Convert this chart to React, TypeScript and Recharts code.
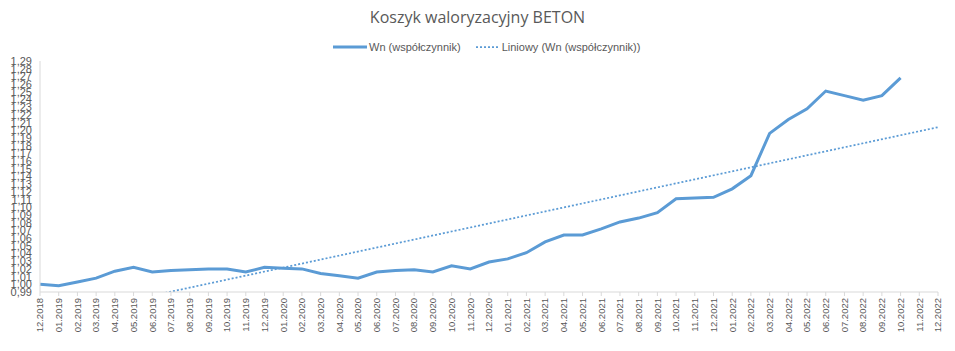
import { LineChart, Line, XAxis, YAxis } from 'recharts'

const MONTHS = [
  '12.2018',
  '01.2019', '02.2019', '03.2019', '04.2019', '05.2019', '06.2019', '07.2019', '08.2019', '09.2019', '10.2019', '11.2019', '12.2019',
  '01.2020', '02.2020', '03.2020', '04.2020', '05.2020', '06.2020', '07.2020', '08.2020', '09.2020', '10.2020', '11.2020', '12.2020',
  '01.2021', '02.2021', '03.2021', '04.2021', '05.2021', '06.2021', '07.2021', '08.2021', '09.2021', '10.2021', '11.2021', '12.2021',
  '01.2022', '02.2022', '03.2022', '04.2022', '05.2022', '06.2022', '07.2022', '08.2022', '09.2022', '10.2022', '11.2022', '12.2022',
]

// Wn (współczynnik), 12.2018 – 10.2022
const WN = [
  1.000, 0.998, 1.003, 1.008, 1.017, 1.022, 1.016, 1.018, 1.019, 1.020, 1.020, 1.016,
  1.022, 1.021, 1.020, 1.014, 1.011, 1.008, 1.016, 1.018, 1.019, 1.016, 1.024, 1.020,
  1.029, 1.033, 1.041, 1.055, 1.064, 1.064, 1.072, 1.081, 1.086, 1.093, 1.111, 1.112,
  1.113, 1.124, 1.141, 1.196, 1.214, 1.228, 1.251, 1.245, 1.239, 1.245, 1.268,
]

// linear trend read at first and last month of the axis
const TREND = [0.954, 1.204]

const Y_TICKS = [
  0.99, 1.0, 1.01, 1.02, 1.03, 1.04, 1.05, 1.06, 1.07, 1.08, 1.09, 1.1, 1.11, 1.12, 1.13, 1.14,
  1.15, 1.16, 1.17, 1.18, 1.19, 1.2, 1.21, 1.22, 1.23, 1.24, 1.25, 1.26, 1.27, 1.28, 1.29,
]

const BLUE = '#5b9bd5'
const TEXT = '#595959'
const AXIS = '#d9d9d9'
const FONT = '"Liberation Sans", Arial, sans-serif'

const data = MONTHS.map((month, i) => ({
  month,
  wn: i < WN.length ? WN[i] : null,
  trend: i === 0 ? TREND[0] : i === MONTHS.length - 1 ? TREND[1] : null,
}))

function MonthTick(props: any) {
  const { x, y, payload } = props
  return (
    <text
      x={x}
      y={y}
      transform={`rotate(-90, ${x}, ${y})`}
      textAnchor="end"
      dy="0.35em"
      fill={TEXT}
      fontSize={9.5}
      fontFamily={FONT}
    >
      {payload.value}
    </text>
  )
}

export default function App() {
  return (
    <div style={{ position: 'absolute', left: 0, top: 0, width: 955, height: 351, background: '#fff', fontFamily: FONT }}>
      <div style={{ position: 'absolute', top: 6, left: 0, width: 955, textAlign: 'center', fontSize: 16, color: TEXT, fontFamily: '"Open Sans", sans-serif' }}>
        Koszyk waloryzacyjny BETON
      </div>
      <div style={{ position: 'absolute', top: 41, left: 333, display: 'flex', alignItems: 'center', fontSize: 11, color: TEXT, whiteSpace: 'nowrap' }}>
        <svg width={34} height={8}>
          <line x1={0} y1={4} x2={34} y2={4} stroke={BLUE} strokeWidth={3} />
        </svg>
        <span style={{ marginLeft: 2 }}>Wn (współczynnik)</span>
        <svg width={22} height={8} style={{ marginLeft: 15 }}>
          <line x1={0} y1={4} x2={22} y2={4} stroke={BLUE} strokeWidth={1.75} strokeDasharray="2 2" />
        </svg>
        <span style={{ marginLeft: 4 }}>Liniowy (Wn (współczynnik))</span>
      </div>
      <LineChart width={955} height={351} data={data} margin={{ top: 61, right: 17, bottom: 0, left: 0 }}>
        <XAxis
          dataKey="month"
          interval={0}
          height={59}
          tick={<MonthTick />}
          tickSize={4}
          tickMargin={2}
          axisLine={{ stroke: AXIS }}
          tickLine={{ stroke: AXIS }}
        />
        <YAxis
          width={40}
          domain={[0.99, 1.29]}
          ticks={Y_TICKS}
          interval={0}
          allowDataOverflow
          tickFormatter={(v: number) => v.toFixed(2).replace('.', ',')}
          tick={{ fill: TEXT, fontSize: 11, fontFamily: FONT }}
          tickLine={false}
          tickSize={0}
          tickMargin={8}
          axisLine={{ stroke: AXIS }}
        />
        <Line
          dataKey="wn"
          type="linear"
          stroke={BLUE}
          strokeWidth={3}
          dot={false}
          activeDot={false}
          isAnimationActive={false}
        />
        <Line
          dataKey="trend"
          type="linear"
          stroke={BLUE}
          strokeWidth={1.75}
          strokeDasharray="2 2"
          connectNulls
          dot={false}
          activeDot={false}
          isAnimationActive={false}
        />
      </LineChart>
    </div>
  )
}
